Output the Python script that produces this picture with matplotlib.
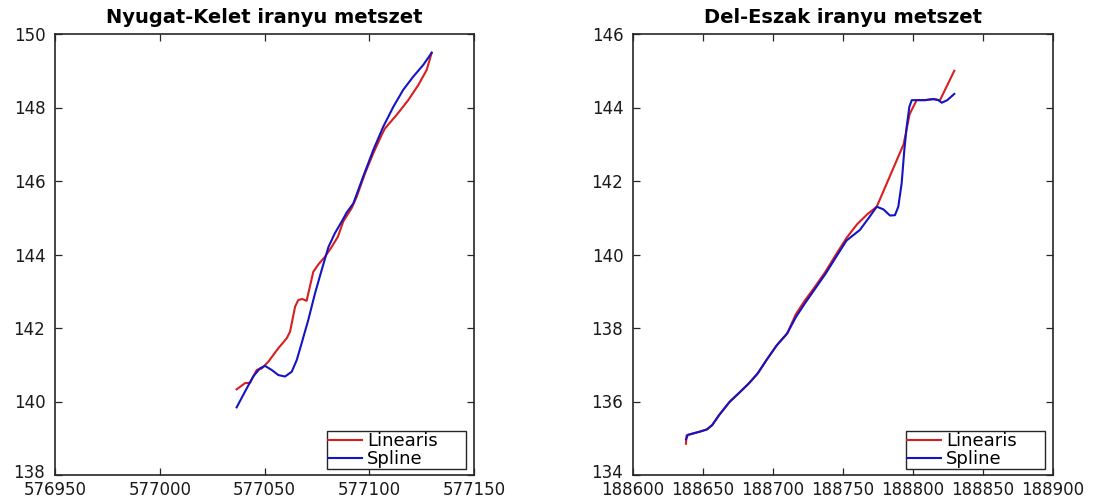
import matplotlib
matplotlib.use("Agg")
import matplotlib.pyplot as plt
from matplotlib.transforms import ScaledTranslation

# ---- West-East section -------------------------------------------------
ne_lin_x = [577036.7, 577040.7, 577043.1, 577046.3, 577048.7, 577051.8, 577056.6,
            577060.6, 577062.2, 577064.6, 577066.1, 577068.0, 577070.1, 577073.3,
            577075.7, 577078.9, 577082.1, 577085.0, 577087.6, 577091.6, 577094.0,
            577098.0, 577101.9, 577105.9, 577107.5, 577113.1, 577118.6, 577123.4,
            577127.4, 577129.8]
ne_lin_y = [140.33, 140.50, 140.51, 140.86, 140.90, 141.08, 141.45,
            141.72, 141.90, 142.58, 142.76, 142.79, 142.74, 143.53,
            143.73, 143.94, 144.21, 144.48, 144.90, 145.26, 145.57,
            146.21, 146.75, 147.25, 147.43, 147.80, 148.20, 148.61,
            149.02, 149.49]

ne_spl_x = [577036.7, 577040.7, 577044.6, 577047.8, 577050.2, 577053.4, 577056.6,
            577059.8, 577063.0, 577065.4, 577067.7, 577070.9, 577074.1, 577077.3,
            577080.5, 577083.6, 577086.8, 577089.2, 577092.4, 577097.1, 577101.9,
            577106.7, 577111.5, 577116.2, 577121.0, 577125.8, 577129.8]
ne_spl_y = [139.84, 140.27, 140.68, 140.90, 140.97, 140.86, 140.72,
            140.68, 140.81, 141.13, 141.58, 142.22, 142.94, 143.58,
            144.20, 144.58, 144.89, 145.14, 145.39, 146.12, 146.84,
            147.48, 148.02, 148.48, 148.84, 149.16, 149.49]

ne_xticks = [576950, 577000, 577050, 577100, 577150]
ne_yticks = [138, 140, 142, 144, 146, 148, 150]

# ---- South-North section -----------------------------------------------
de_lin_x = [188637.8, 188638.3, 188642.9, 188647.8, 188652.8, 188656.6, 188661.5,
            188669.0, 188676.5, 188682.7, 188689.0, 188695.2, 188702.7, 188710.1,
            188716.4, 188722.6, 188730.1, 188737.6, 188745.0, 188752.5, 188760.0,
            188767.5, 188774.1, 188793.3, 188797.6, 188802.6, 188808.6, 188814.5,
            188819.3, 188829.5]
de_lin_y = [134.85, 135.08, 135.13, 135.18, 135.24, 135.36, 135.63,
            135.99, 136.26, 136.49, 136.76, 137.12, 137.53, 137.85,
            138.38, 138.74, 139.13, 139.54, 140.00, 140.45, 140.82,
            141.10, 141.30, 143.00, 143.82, 144.20, 144.20, 144.23,
            144.20, 145.00]

de_spl_x = [188637.9, 188639.1, 188642.9, 188647.8, 188652.8, 188656.6, 188661.5,
            188669.0, 188676.5, 188682.7, 188689.0, 188695.2, 188702.7, 188710.1,
            188716.4, 188722.6, 188730.1, 188737.6, 188745.0, 188752.5, 188762.1,
            188768.1, 188774.1, 188778.8, 188783.6, 188787.1, 188789.5, 188791.9,
            188793.8, 188795.5, 188797.4, 188799.1, 188802.6, 188808.6, 188814.5,
            188818.1, 188820.5, 188824.5, 188829.5]
de_spl_y = [134.97, 135.09, 135.13, 135.18, 135.24, 135.36, 135.63,
            135.99, 136.26, 136.49, 136.76, 137.12, 137.53, 137.85,
            138.30, 138.66, 139.07, 139.48, 139.93, 140.38, 140.67,
            140.98, 141.30, 141.23, 141.06, 141.07, 141.30, 141.94,
            142.84, 143.48, 144.02, 144.20, 144.20, 144.20, 144.23,
            144.20, 144.13, 144.20, 144.37]

de_xticks = [188600, 188650, 188700, 188750, 188800, 188850, 188900]
de_yticks = [134, 136, 138, 140, 142, 144, 146]

RED = "#d81e1e"
BLUE = "#1414c4"
FRAME = "#262626"

W, H = 1093, 497
fig = plt.figure(figsize=(W / 100, H / 100), dpi=100)
fig.patch.set_facecolor("white")


def px_axes(x0, y0, x1, y1):
    return fig.add_axes([x0 / W, 1 - y1 / H, (x1 - x0) / W, (y1 - y0) / H])


def style(ax, title, xticks, yticks):
    ax.set_xlim(xticks[0], xticks[-1])
    ax.set_ylim(yticks[0], yticks[-1])
    ax.set_xticks(xticks)
    ax.set_xticklabels([str(t) for t in xticks])
    ax.set_yticks(yticks)
    ax.set_yticklabels([str(t) for t in yticks])
    ax.tick_params(axis="both", direction="in", length=5, width=0.9,
                   color=FRAME, top=True, right=True, labelsize=12,
                   labelcolor="#1a1a1a")
    ax.tick_params(axis="x", pad=4)
    ax.tick_params(axis="y", pad=7)
    # lift the lowest y label a little so it sits above the x labels
    lowest = ax.get_yticklabels()[0]
    lowest.set_transform(lowest.get_transform()
                         + ScaledTranslation(0, 4.5 / 100, fig.dpi_scale_trans))
    for s in ax.spines.values():
        s.set_color(FRAME)
        s.set_linewidth(1.2)
    ax.set_title(title, fontsize=14, fontweight="bold", pad=8, color="black")


def legend(ax, hx0, hx1):
    ax.legend(loc="lower right", fontsize=13, frameon=True, fancybox=False,
              edgecolor=FRAME, framealpha=1, borderaxespad=0.2, borderpad=0.05,
              labelspacing=0.0, handlelength=1.9, handletextpad=0.3,
              bbox_to_anchor=(hx0, 0.005, hx1 - hx0, 0.1), mode="expand")


ax1 = px_axes(55, 34, 474, 475)
ax1.plot(ne_lin_x, ne_lin_y, color=RED, lw=1.5, label="Linearis")
ax1.plot(ne_spl_x, ne_spl_y, color=BLUE, lw=1.5, label="Spline")
style(ax1, "Nyugat-Kelet iranyu metszet", ne_xticks, ne_yticks)
legend(ax1, (323 - 55) / 419, (470 - 55) / 419)

ax2 = px_axes(633, 34, 1053, 475)
ax2.plot(de_lin_x, de_lin_y, color=RED, lw=1.5, label="Linearis")
ax2.plot(de_spl_x, de_spl_y, color=BLUE, lw=1.5, label="Spline")
style(ax2, "Del-Eszak iranyu metszet", de_xticks, de_yticks)
legend(ax2, (902 - 633) / 420, (1049 - 633) / 420)

fig.savefig("out.png", dpi=100, facecolor="white")
